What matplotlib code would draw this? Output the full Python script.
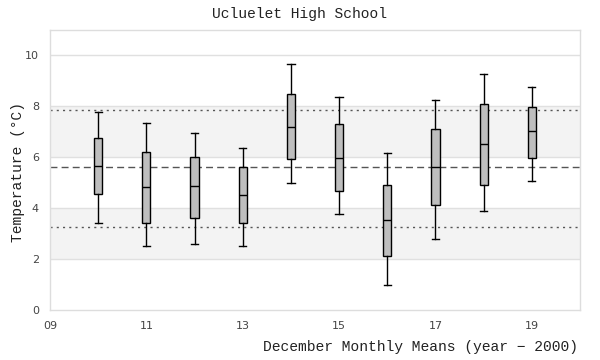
import matplotlib
matplotlib.use("Agg")
import matplotlib.pyplot as plt

years = [10, 11, 12, 13, 14, 15, 16, 17, 18, 19]
whisker_low = [3.40, 2.50, 2.59, 2.50, 4.97, 3.79, 0.97, 2.77, 3.87, 5.08]
q1 = [4.57, 3.40, 3.63, 3.40, 5.92, 4.69, 2.14, 4.12, 4.93, 5.99]
median = [5.67, 4.82, 4.86, 4.50, 7.20, 5.99, 3.53, 5.63, 6.54, 7.02]
q3 = [6.77, 6.22, 6.03, 5.60, 8.50, 7.32, 4.93, 7.12, 8.10, 7.99]
whisker_high = [7.79, 7.36, 6.97, 6.38, 9.67, 8.37, 6.17, 8.26, 9.28, 8.77]
overall_mean = 5.60
sd_low, sd_high = 3.28, 7.87
bands = [(2, 4), (6, 8)]
xticks = [9, 11, 13, 15, 17, 19]
xticklabels = ["09", "11", "13", "15", "17", "19"]
yticks = [0, 2, 4, 6, 8, 10]

mono = "Liberation Mono"

fig = plt.figure(figsize=(6, 3.6), dpi=100)
ax = fig.add_axes([50/600, 50/360, 530/600, 280/360])

for lo, hi in bands:
    ax.axhspan(lo, hi, color="#f3f3f3", zorder=0, lw=0)
for y in yticks[1:]:
    ax.axhline(y, color="#e0e0e0", lw=1, zorder=0.5)

ax.axhline(sd_high, color="#555555", lw=1, ls=(0, (1.5, 3)), zorder=1)
ax.axhline(sd_low, color="#555555", lw=1, ls=(0, (1.5, 3)), zorder=1)
ax.axhline(overall_mean, color="#555555", lw=1, ls=(0, (5, 3)), zorder=1)

stats = []
for i in range(len(years)):
    stats.append(dict(whislo=whisker_low[i], q1=q1[i], med=median[i],
                      q3=q3[i], whishi=whisker_high[i], fliers=[]))
ax.bxp(stats, positions=years, widths=0.17, patch_artist=True,
       showfliers=False, manage_ticks=False,
       boxprops=dict(facecolor="#bebebe", edgecolor="black", lw=1),
       medianprops=dict(color="black", lw=1),
       whiskerprops=dict(color="black", lw=1),
       capprops=dict(color="black", lw=1),
       capwidths=0.15, zorder=3)

ax.set_xlim(9, 20)
ax.set_ylim(0, 11)
ax.set_xticks(xticks)
ax.set_xticklabels(xticklabels)
ax.set_yticks(yticks)
ax.tick_params(length=0, labelsize=8, labelcolor="#444444", pad=8)
for s in ax.spines.values():
    s.set_color("#dddddd")
    s.set_linewidth(1)

fig.text(0.5, 1 - 14/360, "Ucluelet High School", family=mono, fontsize=10.5,
         ha="center", va="center", color="#222222")
fig.text(578/600, 1 - 347/360, "December Monthly Means (year \u2212 2000)",
         family=mono, fontsize=10.5, ha="right", va="center", color="#222222")
fig.text(18/600, 1 - 172/360, "Temperature (\u00b0C)", family=mono, fontsize=10.5,
         ha="center", va="center", rotation=90, color="#222222")

fig.savefig("out.png", dpi=100)
